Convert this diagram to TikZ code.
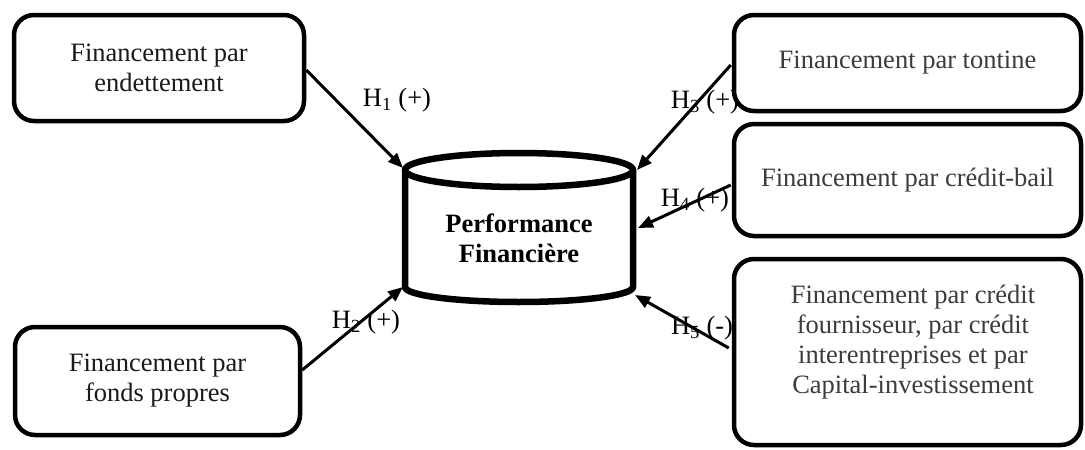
\documentclass[tikz,border=0pt]{standalone}
\usepackage{fontspec}
\setmainfont{Liberation Serif}
\usetikzlibrary{arrows.meta,calc}
\definecolor{rtext}{HTML}{3C3C3C}
\definecolor{ltext}{HTML}{1A1A1A}
\begin{document}
\begin{tikzpicture}[x=1pt,y=-1pt,
  every node/.style={font=\fontsize{26.5}{30}\selectfont},
  box/.style={draw, line width=4.5pt, rounded corners=20pt, fill=white, align=center, inner sep=0pt},
  cyl/.style={line width=6.5pt, line join=round},
  conn/.style={line width=3pt, -{Triangle[length=15pt,width=12pt]}},
  hlab/.style={inner sep=0pt}
]
\useasboundingbox (0,0) rectangle (1085,450);
% boxes
\node[box, text=ltext, minimum width=290pt, minimum height=106pt] (b1) at (159,68) {Financement par\\endettement};
\node[box, text=ltext, minimum width=285pt, minimum height=108pt] (b2) at (157.5,381) {Financement par\\fonds propres};
% cylinder
\coordinate (ctl) at (405,170);
\coordinate (ctr) at (633,170);
\coordinate (cbl) at (405,287);
\coordinate (cbr) at (633,287);
\draw[cyl] (519,170) ellipse [x radius=114, y radius=17];
\draw[cyl] (ctl) -- (cbl) arc[start angle=180, end angle=0, x radius=114, y radius=15] -- (ctr);
\node[font=\fontsize{26.5}{30}\selectfont\bfseries, align=center, inner sep=0pt] (perf) at (519,238) {Performance\\Financière};
% arrow targets
\coordinate (t1) at (403,168);
\coordinate (t2) at (403,287);
\coordinate (t3) at (637,170);
\coordinate (t4) at (638,228);
\coordinate (t5) at (635,295);
% labels
\node[hlab] (h1) at (397,100) {H\textsubscript{1} (+)};
\node[hlab] (h2) at (366,322) {H\textsubscript{2} (+)};
\node[hlab] (h3) at (705,102) {H\textsubscript{3} (+)};
\node[hlab] (h4) at (695,200) {H\textsubscript{4} (+)};
\node[hlab] (h5) at (702,328) {H\textsubscript{5} (-)};
% connectors
\draw[conn] ($(b1.east)+(0,2)$) -- (t1);
\draw[conn] ($(b2.east)+(0,-11)$) -- (t2);
% right boxes
\node[box, text=rtext, minimum width=347pt, minimum height=96pt] (b3) at (907.5,63) {Financement par tontine};
\node[box, text=rtext, minimum width=347pt, minimum height=112pt] (b4) at (907.5,180) {Financement par crédit-bail};
\node[box, minimum width=347pt, minimum height=186pt] (b5) at (907.5,352) {};
\node[align=center, text=rtext, inner sep=0pt, anchor=north] (b5t) at (913,284.5) {Financement par crédit\\fournisseur, par crédit\\interentreprises et par\\Capital-investissement};
\draw[conn] ($(b3.west)+(-1,2)$) -- (t3);
\draw[conn] ($(b4.west)+(-1,5)$) -- (t4);
\draw[conn] ($(b5.west)+(-3,-4)$) -- (t5);
\end{tikzpicture}
\end{document}
